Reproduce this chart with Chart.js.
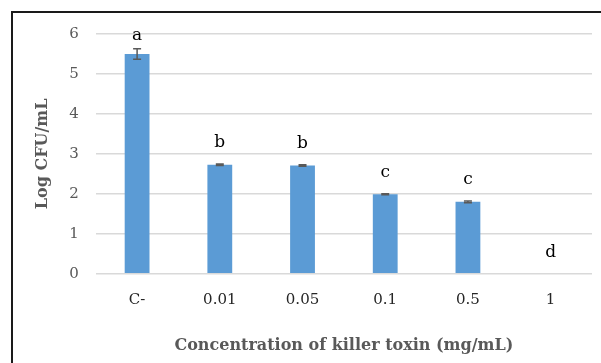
<!DOCTYPE html>
<html>
<head>
<meta charset="utf-8">
<script src="https://cdn.jsdelivr.net/npm/chart.js@4.4.1/dist/chart.umd.min.js"></script>
<style>
  html, body { margin: 0; padding: 0; background: #fff; overflow: hidden; }
  #wrap { width: 601px; height: 363px; }
</style>
</head>
<body>
<div id="wrap"><canvas id="cfu"></canvas></div>
<script>
// data
var concentrations = ["C-", "0.01", "0.05", "0.1", "0.5", "1"];
var logCfu = [5.5, 2.73, 2.71, 1.99, 1.8, 0];
var stdErr = [0.13, 0.02, 0.02, 0.01, 0.02, 0];
var groupLetters = ["a", "b", "b", "c", "c", "d"];
var yTicks = [0, 1, 2, 3, 4, 5, 6];

var serif = "'DejaVu Serif', 'Liberation Serif', serif";
var barColor = "#5b9bd5";

// frame round the figure, error bars and significance letters
var extrasPlugin = {
    id: "extras",
    beforeDraw: function(chart) {
        var ctx = chart.ctx;
        ctx.save();
        ctx.strokeStyle = "#1a1a1a";
        ctx.lineWidth = 2;
        ctx.strokeRect(12, 12, 700, 500);
        ctx.restore();
    },
    afterDatasetsDraw: function(chart) {
        var ctx = chart.ctx;
        var x = chart.scales.x;
        var y = chart.scales.y;
        var area = chart.chartArea;
        ctx.save();
        ctx.strokeStyle = "#595959";
        ctx.lineWidth = 1.5;
        for (var i = 0; i < logCfu.length; i++) {
            var cx = x.getPixelForValue(i);
            if (stdErr[i] > 0) {
                var top = y.getPixelForValue(logCfu[i] + stdErr[i]);
                var bot = y.getPixelForValue(logCfu[i] - stdErr[i]);
                ctx.beginPath();
                ctx.moveTo(cx, top);
                ctx.lineTo(cx, bot);
                ctx.moveTo(cx - 4, top);
                ctx.lineTo(cx + 4, top);
                ctx.moveTo(cx - 4, bot);
                ctx.lineTo(cx + 4, bot);
                ctx.stroke();
            }
            var ly = y.getPixelForValue(logCfu[i] + stdErr[i]) - 21;
            ly = Math.max(ly, area.top + 2);
            ctx.fillStyle = "#000";
            ctx.font = "17px " + serif;
            ctx.textAlign = "center";
            ctx.textBaseline = "middle";
            ctx.fillText(groupLetters[i], cx, ly);
        }
        ctx.restore();
    }
};

new Chart(document.getElementById("cfu").getContext("2d"), {
    type: "bar",
    data: {
        labels: concentrations,
        datasets: [
            {
                data: logCfu,
                backgroundColor: barColor,
                barPercentage: 0.3,
                categoryPercentage: 1
            }
        ]
    },
    options: {
        responsive: true,
        maintainAspectRatio: false,
        animation: false,
        devicePixelRatio: 1,
        layout: {
            padding: { left: 33, right: 9, top: 34, bottom: 8 }
        },
        plugins: {
            legend: { display: false },
            tooltip: { enabled: false }
        },
        scales: {
            x: {
                grid: { display: false },
                border: { display: false },
                ticks: {
                    color: "#262626",
                    padding: 9,
                    font: { family: serif, size: 15 }
                },
                title: {
                    display: true,
                    text: "Concentration of killer toxin (mg/mL)",
                    color: "#595959",
                    padding: { top: 18, bottom: 0 },
                    font: { family: serif, size: 16, weight: "bold" }
                }
            },
            y: {
                min: 0,
                max: 6,
                afterBuildTicks: function(axis) {
                    axis.ticks = yTicks.map(function(v) { return { value: v }; });
                },
                grid: { color: "#d9d9d9", lineWidth: 1.5, drawTicks: false },
                border: { display: false },
                ticks: {
                    color: "#595959",
                    padding: 17,
                    font: { family: serif, size: 15 }
                },
                title: {
                    display: true,
                    text: "Log CFU/mL",
                    color: "#595959",
                    padding: { top: 0, bottom: 0 },
                    font: { family: serif, size: 16, weight: "bold" }
                }
            }
        }
    },
    plugins: [extrasPlugin]
});
</script>
</body>
</html>
